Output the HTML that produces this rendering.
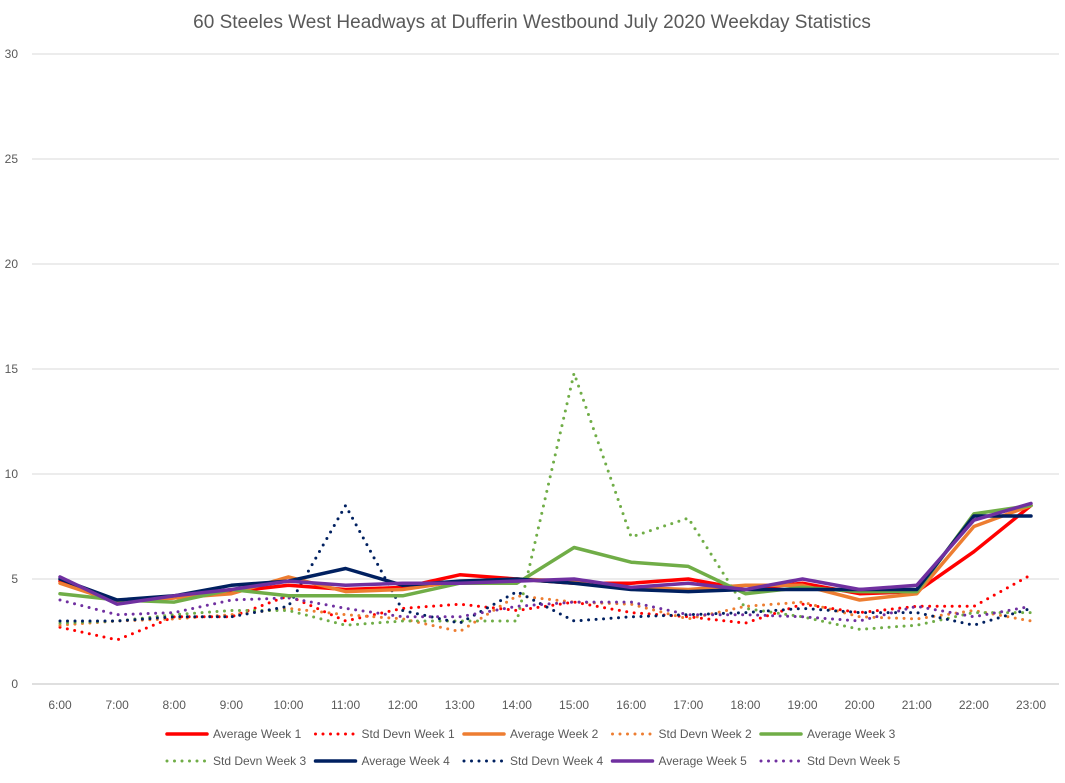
<!DOCTYPE html>
<html><head><meta charset="utf-8"><style>
body{margin:0;background:#fff;font-family:"Liberation Sans",sans-serif}
svg text{font-family:"Liberation Sans",sans-serif}
</style></head><body>
<svg id="chart" width="1065" height="778" xmlns="http://www.w3.org/2000/svg">
<rect width="1065" height="778" fill="#fff"/>
<text x="532" y="28" text-anchor="middle" font-size="19" fill="#595959">60 Steeles West Headways at Dufferin Westbound July 2020 Weekday Statistics</text>
<g id="grid"></g><g id="series"></g><g id="legend"></g>
</svg>
<script>
const categories=["6:00","7:00","8:00","9:00","10:00","11:00","12:00","13:00","14:00","15:00","16:00","17:00","18:00","19:00","20:00","21:00","22:00","23:00"];
const yTicks=[0,5,10,15,20,25,30];
const avgW1=[4.9,3.9,4.1,4.4,4.7,4.5,4.6,5.2,5.0,4.8,4.8,5.0,4.5,4.8,4.3,4.4,6.3,8.5];
const sdW1=[2.7,2.1,3.2,3.2,4.2,3.0,3.6,3.8,3.5,3.9,3.4,3.2,2.9,3.8,3.4,3.7,3.7,5.2];
const avgW2=[4.8,3.9,4.1,4.3,5.1,4.4,4.5,4.9,5.0,4.9,4.6,4.5,4.7,4.7,4.0,4.3,7.5,8.5];
const sdW2=[2.8,3.0,3.1,3.3,3.6,3.3,3.1,2.5,4.2,3.9,3.8,3.1,3.7,3.9,3.2,3.1,3.5,3.0];
const avgW3=[4.3,4.0,3.9,4.5,4.2,4.2,4.2,4.8,4.8,6.5,5.8,5.6,4.3,4.6,4.4,4.4,8.1,8.5];
const sdW3=[2.9,3.0,3.3,3.5,3.5,2.8,3.0,3.0,3.0,14.8,7.0,7.9,3.6,3.2,2.6,2.8,3.4,3.4];
const avgW4=[5.0,4.0,4.2,4.7,4.9,5.5,4.7,4.9,5.0,4.8,4.5,4.4,4.5,4.5,4.5,4.5,8.0,8.0];
const sdW4=[3.0,3.0,3.2,3.2,3.7,8.5,3.5,2.9,4.4,3.0,3.2,3.3,3.4,3.6,3.4,3.4,2.8,3.6];
const avgW5=[5.1,3.8,4.2,4.5,4.9,4.7,4.8,4.8,4.9,5.0,4.6,4.8,4.5,5.0,4.5,4.7,7.8,8.6];
const sdW5=[4.0,3.3,3.4,4.0,4.1,3.6,3.2,3.2,3.7,3.9,3.9,3.3,3.3,3.2,3.0,3.7,3.2,3.7];
const seriesNames=["Average Week 1","Std Devn Week 1","Average Week 2","Std Devn Week 2","Average Week 3","Std Devn Week 3","Average Week 4","Std Devn Week 4","Average Week 5","Std Devn Week 5"];
const NS="http://www.w3.org/2000/svg";
const x=i=>60+i*(971/17);
const y=v=>684-v*21;
function mk(t,a,p){const e=document.createElementNS(NS,t);for(const k in a)e.setAttribute(k,a[k]);p.appendChild(e);return e;}
const grid=document.getElementById('grid');
yTicks.forEach(v=>{
  const l=mk('line',{x1:32,x2:1059,y1:y(v),y2:y(v),stroke:v===0?'#bfbfbf':'#d9d9d9','stroke-width':1},grid);
  
  
  const t=mk('text',{x:18,y:y(v)+4,'text-anchor':'end','font-size':12,fill:'#595959'},grid);
  t.textContent=v;
  
  
});
categories.forEach((c,i)=>{
  const t=mk('text',{x:x(i),y:709,'text-anchor':'middle','font-size':12,fill:'#595959'},grid);
  t.textContent=c;
  
  
});
const data=[avgW1,sdW1,avgW2,sdW2,avgW3,sdW3,avgW4,sdW4,avgW5,sdW5];
const colors=["#ff0000","#ff0000","#ed7d31","#ed7d31","#70ad47","#70ad47","#002060","#002060","#7030a0","#7030a0"];
const sg=document.getElementById('series');
const order=[1,3,5,7,9,0,2,4,6,8];
order.forEach(k=>{
  const dotted=k%2===1;
  const pts=data[k].map((v,i)=>x(i)+','+y(v)).join(' ');
  const p=mk('polyline',{points:pts,fill:'none',stroke:colors[k],'stroke-width':dotted?3:3.5,'stroke-linejoin':'round','stroke-linecap':'round'},sg);
  if(dotted){p.setAttribute('stroke-dasharray','0 7.5');}
  
  
});
const lg=document.getElementById('legend');
seriesNames.forEach((n,k)=>{
  const row=k<5?0:1;const col=k<5?k:k-5;
  const lx=167+col*148.5, ly=row?761:734;
  const g=mk('g',{},lg);
  
  
  const l=mk('line',{x1:lx,x2:lx+40,y1:ly,y2:ly,stroke:colors[k],'stroke-width':3.5,'stroke-linecap':'round'},g);
  if(k%2===1){l.setAttribute('stroke-dasharray','0 7.5');l.setAttribute('stroke-width',3);}
  const t=mk('text',{x:lx+46,y:ly+4,'font-size':12,fill:'#595959'},g);
  t.textContent=n;
});
</script>
</body></html>
